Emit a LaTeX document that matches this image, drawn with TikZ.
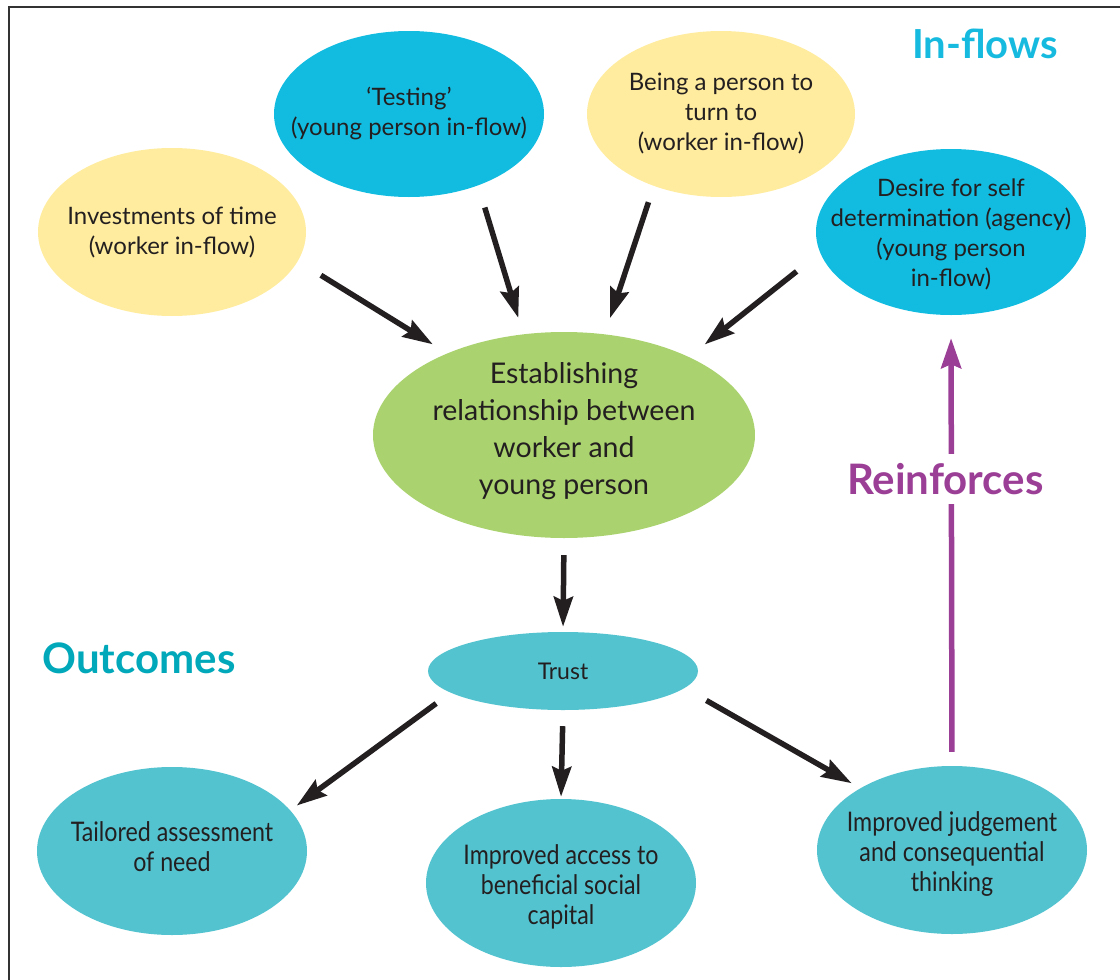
\documentclass[tikz,border=0pt]{standalone}
\usepackage{fontspec}
\setmainfont{Lato}
\newfontfamily\condfont[FakeStretch=0.86]{Lato}
\usetikzlibrary{shapes.geometric,arrows.meta}
\definecolor{ylw}{HTML}{FFEC9F}
\definecolor{cyn}{HTML}{12BCE0}
\definecolor{grn}{HTML}{AAD26E}
\definecolor{tel}{HTML}{54C3D0}
\definecolor{inflowc}{HTML}{17BADF}
\definecolor{outc}{HTML}{00A8BA}
\definecolor{prp}{HTML}{9B3E96}
\definecolor{ink}{HTML}{231F20}
\definecolor{framec}{HTML}{333333}
\begin{document}
\begin{tikzpicture}[x=1pt,y=-1pt,
  bub/.style={ellipse,inner sep=0pt},
  toptxt/.style={inner sep=0pt,align=center,text=ink,font=\fontsize{24}{30}\selectfont},
  outtxt/.style={inner sep=0pt,align=center,text=ink,font=\condfont\fontsize{27}{30}\selectfont},
  outb/.style={ellipse,inner sep=0pt,fill=tel,minimum width=270pt,minimum height=168pt},
  arr/.style={draw=ink,line width=5.5pt,-{Stealth[length=30pt,width=19pt,inset=4pt]}},
  parr/.style={draw=prp,line width=5.5pt,-{Stealth[length=30pt,width=20pt,inset=4pt]}},
  ttl/.style={font=\bfseries\fontsize{40}{40}\selectfont,anchor=base,inner sep=0pt}]
\useasboundingbox (0,0) rectangle (1120,980);
% frame
\coordinate (fbl) at (9,985);
\coordinate (ftl) at (9,7);
\coordinate (ftr) at (1125,7);
\draw[framec,line width=2pt] (fbl) -- (ftl) -- (ftr);
% in-flow bubbles
\node[bub,fill=ylw,minimum width=268pt,minimum height=168pt,label={[toptxt]center:{Investments of time\\(worker in-flow)}}] (inv) at (172,232) {};
\node[bub,fill=cyn,minimum width=270pt,minimum height=166pt,label={[toptxt]center:{`Testing'\\(young person in-flow)}}] (tst) at (409,114) {};
\node[bub,fill=ylw,minimum width=268pt,minimum height=166pt,label={[toptxt]center:{Being a person to\\turn to\\(worker in-flow)}}] (per) at (721,114) {};
\node[bub,fill=cyn,minimum width=270pt,minimum height=166pt,label={[toptxt,yshift=-2pt]center:{Desire for self\\determination (agency)\\(young person\\in-flow)}}] (des) at (951,232) {};
% central
\node[bub,fill=grn,minimum width=382pt,minimum height=206pt,label={[inner sep=0pt,align=center,text=ink,font=\fontsize{28.5}{37}\selectfont,yshift=4pt]center:{Establishing\\relationship between\\worker and\\young person}}] (est) at (564,435) {};
\node[bub,fill=tel,minimum width=270pt,minimum height=78pt,label={[inner sep=0pt,text=ink,font=\fontsize{23}{24}\selectfont]center:{Trust}}] (tru) at (563,671) {};
% outcomes
\node[outb,label={[outtxt,yshift=4pt]center:{Tailored assessment\\of need}}] (tai) at (172,851) {};
\node[outb,label={[outtxt,yshift=-4pt]center:{Improved access to\\beneficial social\\capital}}] (acc) at (561,883) {};
\node[outb,label={[outtxt,yshift=-4pt]center:{Improved judgement\\and consequential\\thinking}}] (jud) at (952,850) {};
% titles
\node[ttl,text=inflowc] (tin) at (985,58) {In-flows};
\node[ttl,text=outc,font=\bfseries\fontsize{42}{42}\selectfont] (tout) at (139,673) {Outcomes};
% arrows in
\draw[arr,shorten <=27pt,shorten >=17pt] (inv.-13.9) -- (est.145.3);
\draw[arr,shorten <=23pt,shorten >=17pt] (tst.-46.5) -- (est.112.2);
\draw[arr,shorten <=17pt,shorten >=17pt] (per.-133.9) -- (est.68);
\draw[arr,shorten <=30pt,shorten >=20pt] (des.-171.2) -- (est.32.6);
\draw[arr,shorten <=17pt,shorten >=5pt] (est.south) -- (tru.north);
% arrows out
\draw[arr,shorten <=18pt,shorten >=8pt] (tru.-169.6) -- (tai.19.3);
\draw[arr,shorten <=16pt,shorten >=2pt] (tru.south) -- (acc.north);
\draw[arr,shorten <=25pt,shorten >=10pt] (tru.-8.2) -- (jud.146.1);
% reinforces
\draw[parr,shorten <=14pt,shorten >=23pt] (jud.north) -- node[pos=0.636,fill=white,inner xsep=2pt,inner ysep=9pt,xshift=-6pt,text=prp,font=\bfseries\fontsize{42}{42}\selectfont] (rei) {Reinforces} (des.south);
\end{tikzpicture}
\end{document}
